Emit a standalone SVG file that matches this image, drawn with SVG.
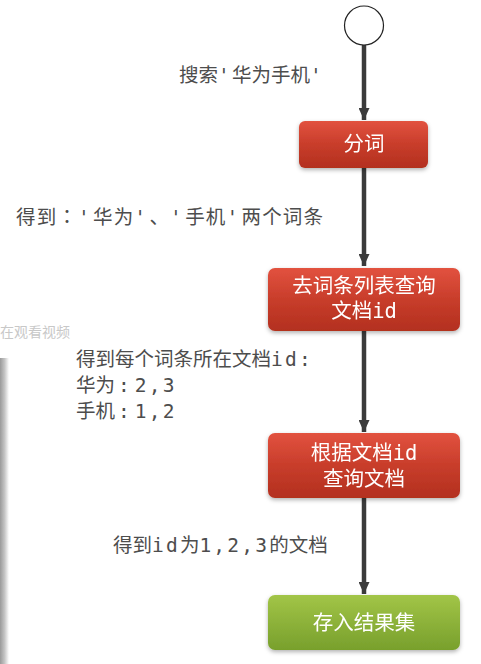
<svg xmlns="http://www.w3.org/2000/svg" width="481" height="664" viewBox="0 0 481 664">
<defs>
<linearGradient id="red" x1="0" y1="0" x2="0" y2="1">
<stop offset="0" stop-color="#e2523f"/>
<stop offset="0.5" stop-color="#c83d2b"/>
<stop offset="1" stop-color="#b3301f"/>
</linearGradient>
<linearGradient id="green" x1="0" y1="0" x2="0" y2="1">
<stop offset="0" stop-color="#a2c547"/>
<stop offset="0.5" stop-color="#8db23a"/>
<stop offset="1" stop-color="#78a02c"/>
</linearGradient>
<linearGradient id="bar" x1="0" y1="0" x2="1" y2="0">
<stop offset="0" stop-color="#9a9a9a"/>
<stop offset="0.5" stop-color="#c4c4c4"/>
<stop offset="1" stop-color="#ffffff"/>
</linearGradient>
<filter id="sh" x="-10%" y="-20%" width="120%" height="150%">
<feDropShadow dx="0" dy="2" stdDeviation="2" flood-color="#000" flood-opacity="0.3"/>
</filter>
<marker id="arr" viewBox="0 0 12 11" refX="12" refY="5.5" markerWidth="12" markerHeight="11" markerUnits="userSpaceOnUse" orient="auto">
<path d="M0,0 L12,5.5 L0,11 Z" fill="#3b3b3b"/>
</marker>
<style>
.lbl{font-family:"DejaVu Sans Mono","Noto Sans CJK SC",monospace;font-size:19.5px;fill:#4d4d4d}
.lat{letter-spacing:2.2px}
.col{letter-spacing:5px}
.tc{font-family:"Noto Sans CJK TC",sans-serif}
.bt{font-family:"DejaVu Sans Mono","Noto Sans CJK SC",monospace;font-size:20.5px;fill:#ffffff;text-anchor:middle}
.edge{stroke:#3b3b3b;stroke-width:4.5;fill:none;marker-end:url(#arr)}
.wm{font-family:"Noto Sans CJK SC",sans-serif;font-size:14px;fill:#c8c8c8}
</style>
</defs>
<rect width="481" height="664" fill="#ffffff"/>
<rect x="0" y="358" width="9" height="306" fill="url(#bar)"/>
<text class="wm" x="0" y="337">在观看视频</text>

<g id="connectors">
<line class="edge" x1="364" y1="45" x2="364" y2="120"/>
<line class="edge" x1="364" y1="168" x2="364" y2="266"/>
<line class="edge" x1="364" y1="331" x2="364" y2="432"/>
<line class="edge" x1="364" y1="498" x2="364" y2="594"/>
</g>

<g id="start">
<circle cx="364" cy="25.5" r="19.5" fill="#ffffff" stroke="#222" stroke-width="1.2"/>
</g>

<g id="label1">
<text class="lbl" x="179" y="82">搜索<tspan class="lat">'</tspan>华为手机<tspan class="lat">'</tspan></text>
</g>

<g id="node-fenci" filter="url(#sh)">
<rect x="299" y="121" width="129" height="47" rx="6" fill="url(#red)"/>
<text class="bt" x="364" y="151">分词</text>
</g>

<g id="label2">
<text class="lbl" x="16" y="224" textLength="307" lengthAdjust="spacing">得到<tspan class="tc">：</tspan><tspan class="lat">'</tspan>华为<tspan class="lat">'</tspan>、<tspan class="lat">'</tspan>手机<tspan class="lat">'</tspan>两个词条</text>
</g>

<g id="node-lookup" filter="url(#sh)">
<rect x="268" y="268" width="192" height="63" rx="7" fill="url(#red)"/>
<text class="bt" x="364" y="293">去词条列表查询</text>
<text class="bt" x="364" y="318">文档id</text>
</g>

<g id="label3">
<text class="lbl" x="76" y="366">得到每个词条所在文档<tspan class="lat">id:</tspan><tspan x="76" y="392">华为</tspan><tspan class="col" dx="3">:</tspan><tspan class="lat">2,3</tspan><tspan x="76" y="418">手机</tspan><tspan class="col" dx="3">:</tspan><tspan class="lat">1,2</tspan></text>
</g>

<g id="node-query" filter="url(#sh)">
<rect x="268" y="433" width="192" height="65" rx="7" fill="url(#red)"/>
<text class="bt" x="364" y="460">根据文档id</text>
<text class="bt" x="364" y="486">查询文档</text>
</g>

<g id="label4">
<text class="lbl" x="113" y="552">得到<tspan class="lat">id</tspan>为<tspan class="lat">1,2,3</tspan>的文档</text>
</g>

<g id="node-result" filter="url(#sh)">
<rect x="268" y="595" width="192" height="55" rx="7" fill="url(#green)"/>
<text class="bt" x="364" y="630">存入结果集</text>
</g>
</svg>
